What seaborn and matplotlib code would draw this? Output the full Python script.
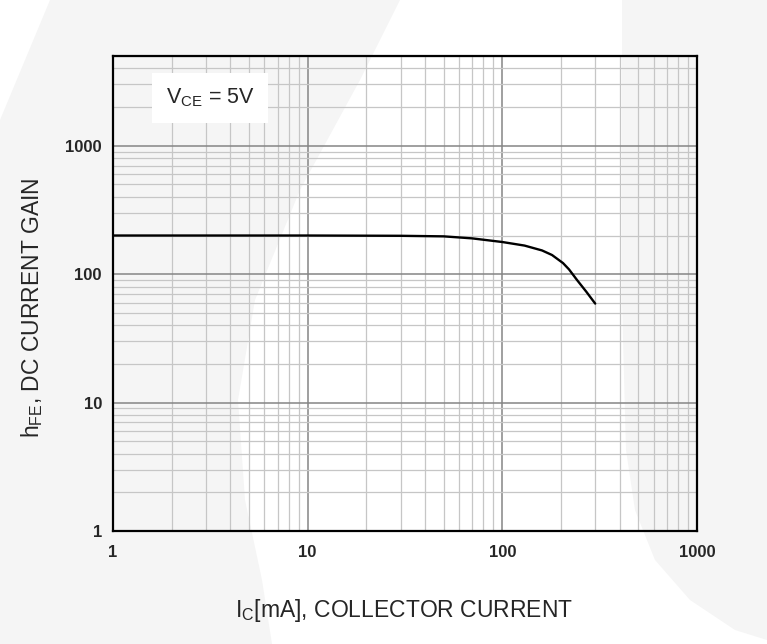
import numpy as np
import pandas as pd
import matplotlib
matplotlib.use("Agg")
import matplotlib.pyplot as plt
from matplotlib.patches import Polygon
from matplotlib.ticker import LogLocator, FixedLocator, NullFormatter
import seaborn as sns

# values
ic_ma = [1, 10, 30, 50, 70, 100, 130, 160, 180, 205, 220, 242, 270, 300]
hfe = [200, 200, 199, 197, 190, 178, 167, 153, 141, 122, 109, 90, 73, 59]
x_ticks = [1, 10, 100, 1000]
y_ticks = [1, 10, 100, 1000]
x_tick_labels = ["1", "10", "100", "1000"]
y_tick_labels = ["1", "10", "100", "1000"]

df = pd.DataFrame({"Ic": ic_ma, "hFE": hfe})

sns.set_style("white")
plt.rcParams["font.family"] = ["Liberation Sans", "DejaVu Sans"]
plt.rcParams["mathtext.fontset"] = "custom"
plt.rcParams["mathtext.rm"] = "Liberation Sans"
plt.rcParams["mathtext.it"] = "Liberation Sans"

fig = plt.figure(figsize=(7.67, 6.44), dpi=100)
fig.patch.set_facecolor("white")

# faint watermark shapes in the background (figure pixel coords -> fraction)
W, H = 767.0, 644.0
def fpoly(pts):
    return Polygon([(x / W, 1 - y / H) for x, y in pts], closed=True,
                   transform=fig.transFigure, facecolor="#f5f5f5",
                   edgecolor="none", zorder=-10)

left_shape = [(50, 0), (400, 0), (360, 80), (300, 190), (255, 300),
              (238, 400), (245, 500), (262, 580), (272, 644), (0, 644), (0, 120)]
right_shape = [(622, 0), (767, 0), (767, 640), (735, 630), (690, 600),
               (655, 560), (635, 510), (626, 450), (622, 300)]
fig.patches.append(fpoly(left_shape))
fig.patches.append(fpoly(right_shape))

ax = fig.add_axes([113 / W, 1 - 531 / H, (697 - 113) / W, (531 - 56) / H])
ax.set_facecolor("none")

sns.lineplot(data=df, x="Ic", y="hFE", ax=ax, color="black", linewidth=1.7,
             zorder=5)

ax.set_xscale("log")
ax.set_yscale("log")
ax.set_xlim(1, 1000)
ax.set_ylim(1, 5000)

ax.xaxis.set_major_locator(FixedLocator(x_ticks))
ax.yaxis.set_major_locator(FixedLocator(y_ticks))
ax.set_xticklabels(x_tick_labels)
ax.set_yticklabels(y_tick_labels)
ax.xaxis.set_minor_locator(LogLocator(base=10, subs=np.arange(2, 10)))
ax.yaxis.set_minor_locator(LogLocator(base=10, subs=np.arange(2, 10)))
ax.xaxis.set_minor_formatter(NullFormatter())
ax.yaxis.set_minor_formatter(NullFormatter())

ax.grid(True, which="major", color="#858585", linewidth=1.1)
ax.grid(True, which="minor", color="#c6c6c6", linewidth=0.9)
ax.set_axisbelow(True)

ax.tick_params(which="both", length=0)
ax.tick_params(axis="x", pad=10)
ax.tick_params(axis="y", pad=8)
for lab in ax.get_xticklabels() + ax.get_yticklabels():
    lab.set_fontsize(12)
    lab.set_fontweight("bold")

for sp in ax.spines.values():
    sp.set_color("black")
    sp.set_linewidth(1.6)
    sp.set_zorder(6)

ax.set_xlabel(r"$\mathregular{I_C}$[mA], COLLECTOR CURRENT", fontsize=16.5)
ax.set_ylabel(r"$\mathregular{h_{FE}}$, DC CURRENT GAIN", fontsize=16.5)
ax.xaxis.set_label_coords(0.499, -0.138)
ax.yaxis.set_label_coords(-0.117, 0.47)

ax.text(0.166, 0.912, r"$\mathregular{V_{CE}}$ = 5V", transform=ax.transAxes,
        fontsize=15.5, ha="center", va="center", zorder=7,
        bbox=dict(boxstyle="square,pad=0.65", facecolor="white",
                  edgecolor="none"))

fig.savefig("out.png", dpi=100)
